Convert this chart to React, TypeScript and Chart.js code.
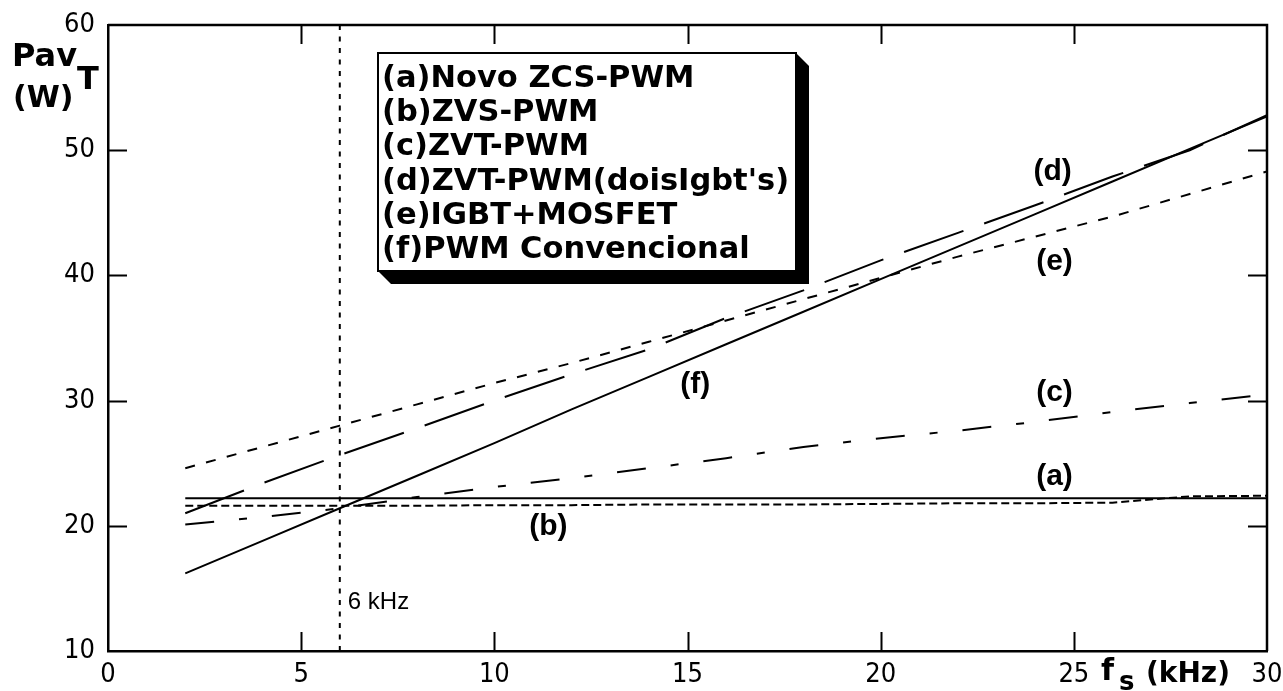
import React, { useEffect, useRef } from 'react';
import { Chart, registerables } from 'chart.js';

Chart.register(...registerables);

// ---- data ----
const freq = [2, 4, 6, 8, 10, 12, 14, 16, 18, 20, 22, 24, 26, 28, 30];
const seriesA = [22.2, 22.2, 22.2, 22.2, 22.2, 22.2, 22.2, 22.2, 22.2, 22.2, 22.2, 22.2, 22.2, 22.2, 22.2];
const seriesB = [21.6, 21.6, 21.6, 21.6, 21.65, 21.65, 21.7, 21.7, 21.7, 21.75, 21.8, 21.8, 21.85, 22.35, 22.4];
const seriesC = [20.1, 20.7, 21.4, 22.3, 23.1, 23.8, 24.6, 25.4, 26.3, 27.0, 27.6, 28.3, 29.1, 29.8, 30.5];
const seriesD = [21.0, 23.4, 25.65, 27.8, 30.0, 32.1, 34.1, 36.6, 38.8, 41.2, 43.4, 45.6, 47.9, 50.0, 52.8];
const seriesE = [24.6, 26.3, 28.0, 29.7, 31.4, 33.0, 34.7, 36.4, 38.1, 39.8, 41.5, 43.1, 44.7, 46.5, 48.3];
const seriesF = [16.2, 18.8, 21.4, 24.0, 26.6, 29.3, 31.9, 34.5, 37.1, 39.7, 42.3, 44.9, 47.5, 50.1, 52.7];

const legendLabels = [
  '(a)Novo ZCS-PWM',
  '(b)ZVS-PWM',
  '(c)ZVT-PWM',
  "(d)ZVT-PWM(doisIgbt's)",
  '(e)IGBT+MOSFET',
  '(f)PWM Convencional',
];
const curveTags = ['(a)', '(b)', '(c)', '(d)', '(e)', '(f)'];
const curveTagFreq = [24.5, 11.4, 24.5, 24.45, 24.5, 15.2];
const curveTagValue = [23.9, 19.9, 30.6, 48.3, 41.1, 31.25];

const markerFreq = [6, 6];
const markerValue = [10, 60];
const markerLabel = '6 kHz';

const xMin = 0, xMax = 30, xStep = 5;
const yMin = 10, yMax = 60, yStep = 10;

const yTitleMain = 'Pav';
const yTitleSub = 'T';
const yTitleUnit = '(W)';
const xTitleMain = 'f';
const xTitleSub = 's';
const xTitleUnit = '(kHz)';

// ---- styles ----
const NARROW = "'Liberation Sans Narrow', 'DejaVu Sans Condensed', 'Arial Narrow', sans-serif";
const WIDE = "'DejaVu Sans', Verdana, sans-serif";
const SANS = "'Liberation Sans', Arial, sans-serif";

const toPts = (ys: number[], xs: number[] = freq) => xs.map((x, i) => ({ x, y: ys[i] }));

const decorPlugin = {
  id: 'decor',
  afterDraw(chart: any) {
    const { ctx, chartArea: ca, scales } = chart;
    const xs = scales.x;
    const ys = scales.y;
    ctx.save();
    ctx.strokeStyle = '#000';
    ctx.fillStyle = '#000';

    // top and right frame
    ctx.lineWidth = 2.5;
    ctx.beginPath();
    ctx.moveTo(ca.left, ca.top);
    ctx.lineTo(ca.right, ca.top);
    ctx.lineTo(ca.right, ca.bottom);
    ctx.stroke();

    // inward tick marks on all four sides
    const tl = 19;
    ctx.lineWidth = 2;
    ctx.beginPath();
    xs.ticks.forEach((t: any) => {
      if (t.value <= xs.min || t.value >= xs.max) return;
      const px = Math.round(xs.getPixelForValue(t.value)) + 0.5;
      ctx.moveTo(px, ca.bottom);
      ctx.lineTo(px, ca.bottom - tl);
      ctx.moveTo(px, ca.top);
      ctx.lineTo(px, ca.top + tl);
    });
    ys.ticks.forEach((t: any) => {
      if (t.value <= ys.min || t.value >= ys.max) return;
      const py = Math.round(ys.getPixelForValue(t.value)) + 0.5;
      ctx.moveTo(ca.left, py);
      ctx.lineTo(ca.left + tl, py);
      ctx.moveTo(ca.right, py);
      ctx.lineTo(ca.right - tl, py);
    });
    ctx.stroke();

    // curve tags
    ctx.font = `bold 30px ${SANS}`;
    ctx.textAlign = 'center';
    ctx.textBaseline = 'middle';
    curveTags.forEach((tag, i) => {
      ctx.fillText(tag, xs.getPixelForValue(curveTagFreq[i]), ys.getPixelForValue(curveTagValue[i]));
    });

    // marker label
    ctx.font = `24px ${SANS}`;
    ctx.textAlign = 'left';
    ctx.fillText(markerLabel, xs.getPixelForValue(markerFreq[0]) + 8, ys.getPixelForValue(13.9));

    // legend box with 3D shadow
    const L = ca.left + 270;
    const T = ca.top + 28;
    const R = ca.left + 688;
    const B = ca.top + 246;
    const d = 13;
    ctx.beginPath();
    ctx.moveTo(L, B);
    ctx.lineTo(L + d, B + d);
    ctx.lineTo(R + d, B + d);
    ctx.lineTo(R + d, T + d);
    ctx.lineTo(R, T);
    ctx.closePath();
    ctx.fill();
    ctx.fillStyle = '#fff';
    ctx.fillRect(L, T, R - L, B - T);
    ctx.lineWidth = 2;
    ctx.strokeRect(L, T, R - L, B - T);
    ctx.fillStyle = '#000';
    ctx.font = `bold 30.5px ${WIDE}`;
    ctx.textAlign = 'left';
    ctx.textBaseline = 'middle';
    legendLabels.forEach((lab, i) => {
      ctx.fillText(lab, L + 4, T + 26 + i * 34.2);
    });

    // y-axis title
    ctx.textBaseline = 'alphabetic';
    ctx.font = `bold 32px ${WIDE}`;
    ctx.fillText(yTitleMain, 12, 66);
    ctx.fillText(yTitleSub, 77, 89);
    ctx.font = `bold 30px ${WIDE}`;
    ctx.fillText(yTitleUnit, 13, 107);

    // x-axis title
    ctx.font = `bold 30px ${WIDE}`;
    ctx.fillText(xTitleMain, 1101, 680);
    ctx.font = `bold 26px ${WIDE}`;
    ctx.fillText(xTitleSub, 1119, 690);
    ctx.font = `bold 28px ${WIDE}`;
    ctx.fillText(xTitleUnit, 1146, 682);

    ctx.restore();
  },
};

export default function App() {
  const ref = useRef<HTMLCanvasElement>(null);

  useEffect(() => {
    document.body.style.margin = '0';
    const canvas = ref.current;
    if (!canvas) return;
    const base = { borderColor: '#000', backgroundColor: '#000', borderWidth: 2, pointRadius: 0, fill: false, tension: 0 };
    const chart = new Chart(canvas, {
      type: 'line',
      data: {
        datasets: [
          { ...base, label: legendLabels[0], data: toPts(seriesA) },
          { ...base, label: legendLabels[1], data: toPts(seriesB), borderDash: [8, 4] },
          { ...base, label: legendLabels[2], data: toPts(seriesC), borderDash: [29, 25, 8, 25] },
          { ...base, label: legendLabels[3], data: toPts(seriesD), borderDash: [63, 22] },
          { ...base, label: legendLabels[4], data: toPts(seriesE), borderDash: [10, 11.5] },
          { ...base, label: legendLabels[5], data: toPts(seriesF) },
          { ...base, label: markerLabel, data: toPts(markerValue, markerFreq), borderDash: [5, 6.5] },
        ],
      },
      options: {
        responsive: false,
        animation: false,
        events: [],
        layout: { padding: { top: 25, right: 16, left: 0, bottom: 0 } },
        plugins: { legend: { display: false }, tooltip: { enabled: false }, title: { display: false } },
        scales: {
          x: {
            type: 'linear',
            min: xMin,
            max: xMax,
            grid: { display: false, drawTicks: false },
            border: { display: true, color: '#000', width: 2.5 },
            ticks: { stepSize: xStep, color: '#000', padding: 8, font: { family: NARROW, size: 27 } },
            afterFit: (s: any) => { s.height = 40; s.paddingLeft = 0; s.paddingRight = 0; },
          },
          y: {
            type: 'linear',
            min: yMin,
            max: yMax,
            grid: { display: false, drawTicks: false },
            border: { display: true, color: '#000', width: 2.5 },
            ticks: { stepSize: yStep, color: '#000', padding: 13, font: { family: NARROW, size: 27 } },
            afterFit: (s: any) => { s.width = 108; s.paddingTop = 0; s.paddingBottom = 0; },
          },
        },
      },
      plugins: [decorPlugin],
    } as any);
    return () => chart.destroy();
  }, []);

  return (
    <div style={{ width: 1283, height: 691, background: '#fff' }}>
      <canvas ref={ref} width={1283} height={691} style={{ display: 'block', width: 1283, height: 691 }} />
    </div>
  );
}
